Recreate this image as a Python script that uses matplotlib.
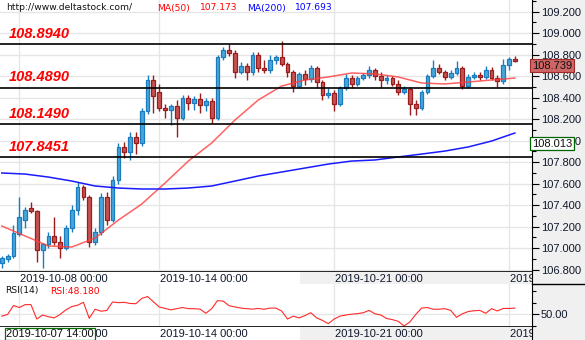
import matplotlib
matplotlib.use("Agg")
import matplotlib.pyplot as plt
import matplotlib.transforms as mtransforms
from matplotlib.ticker import MultipleLocator, FixedLocator, FuncFormatter

# USDJPY-like H4 candles (index 0 = 2019-10-07 12:00)
opens = [106.86, 106.90, 106.93, 107.13, 107.26, 107.37, 107.34, 106.98, 107.04, 107.11,
         107.06, 107.00, 107.19, 107.35, 107.57, 107.47, 107.06, 107.15, 107.47, 107.26,
         107.63, 107.94, 107.89, 108.03, 107.98, 108.27, 108.56, 108.45, 108.30, 108.28,
         108.32, 108.21, 108.40, 108.35, 108.39, 108.33, 108.37, 108.21, 108.78, 108.84,
         108.81, 108.64, 108.69, 108.64, 108.80, 108.67, 108.66, 108.75, 108.78, 108.71,
         108.64, 108.51, 108.62, 108.57, 108.67, 108.54, 108.42, 108.44, 108.34, 108.49,
         108.58, 108.53, 108.58, 108.61, 108.66, 108.60, 108.56, 108.58, 108.53, 108.45,
         108.48, 108.34, 108.30, 108.45, 108.60, 108.67, 108.64, 108.59, 108.63, 108.67,
         108.51, 108.59, 108.61, 108.59, 108.66, 108.58, 108.55, 108.70, 108.76]
highs = [106.93, 106.94, 107.21, 107.47, 107.38, 107.43, 107.35, 107.05, 107.15, 107.29,
         107.11, 107.21, 107.40, 107.61, 107.59, 107.49, 107.19, 107.51, 107.52, 107.67,
         107.98, 107.99, 108.08, 108.08, 108.30, 108.61, 108.61, 108.53, 108.34, 108.34,
         108.38, 108.42, 108.42, 108.41, 108.44, 108.40, 108.40, 108.80, 108.87, 108.90,
         108.84, 108.73, 108.72, 108.82, 108.82, 108.75, 108.80, 108.80, 108.93, 108.73,
         108.66, 108.64, 108.66, 108.70, 108.69, 108.56, 108.49, 108.47, 108.51, 108.62,
         108.61, 108.60, 108.63, 108.69, 108.67, 108.64, 108.61, 108.60, 108.56, 108.51,
         108.50, 108.38, 108.47, 108.62, 108.75, 108.71, 108.66, 108.66, 108.74, 108.69,
         108.62, 108.64, 108.64, 108.69, 108.68, 108.61, 108.76, 108.78, 108.79]
lows = [106.81, 106.87, 106.91, 107.11, 107.19, 107.33, 106.87, 106.81, 107.00, 107.03,
        106.91, 106.98, 107.15, 107.31, 107.45, 107.01, 107.03, 107.12, 107.21, 107.24,
        107.60, 107.84, 107.82, 107.87, 107.95, 108.25, 108.26, 108.27, 108.21, 108.14,
        108.03, 108.19, 108.28, 108.28, 108.26, 108.27, 108.16, 108.19, 108.75, 108.79,
        108.58, 108.62, 108.56, 108.61, 108.64, 108.63, 108.63, 108.71, 108.69, 108.59,
        108.45, 108.49, 108.52, 108.54, 108.49, 108.38, 108.40, 108.27, 108.32, 108.47,
        108.49, 108.51, 108.56, 108.58, 108.56, 108.49, 108.53, 108.51, 108.42, 108.43,
        108.24, 108.24, 108.28, 108.43, 108.58, 108.62, 108.56, 108.57, 108.61, 108.48,
        108.49, 108.57, 108.56, 108.57, 108.56, 108.50, 108.53, 108.66, 108.73]
closes = [106.91, 106.93, 107.14, 107.29, 107.35, 107.34, 106.98, 107.04, 107.11, 107.06,
          107.00, 107.19, 107.35, 107.57, 107.47, 107.06, 107.15, 107.47, 107.26, 107.63,
          107.94, 107.89, 108.03, 107.98, 108.27, 108.56, 108.41, 108.30, 108.28, 108.32,
          108.21, 108.40, 108.35, 108.39, 108.33, 108.37, 108.21, 108.78, 108.84, 108.81,
          108.64, 108.69, 108.64, 108.80, 108.67, 108.66, 108.75, 108.78, 108.71, 108.64,
          108.51, 108.62, 108.57, 108.67, 108.54, 108.42, 108.44, 108.34, 108.49, 108.58,
          108.53, 108.58, 108.61, 108.66, 108.60, 108.56, 108.58, 108.53, 108.45, 108.48,
          108.34, 108.30, 108.45, 108.60, 108.67, 108.64, 108.59, 108.63, 108.67, 108.51,
          108.59, 108.61, 108.59, 108.66, 108.58, 108.55, 108.70, 108.76, 108.739]

# moving averages, read every 4th candle
ma_idx = [0, 4, 8, 12, 16, 20, 24, 28, 32, 36, 40, 44, 48, 52, 56, 60, 64, 68, 72, 76, 80, 84, 88]
ma50 = [107.205, 107.112, 107.019, 107.009, 107.093, 107.260, 107.409, 107.605, 107.809, 107.977,
        108.191, 108.377, 108.507, 108.563, 108.591, 108.628, 108.619, 108.591, 108.535, 108.526,
        108.544, 108.563, 108.581]
ma200 = [107.698, 107.688, 107.660, 107.623, 107.577, 107.558, 107.549, 107.549, 107.558, 107.577,
         107.623, 107.670, 107.707, 107.744, 107.781, 107.809, 107.819, 107.847, 107.874, 107.902,
         107.940, 107.995, 108.070]

rsi = [48.5, 50, 57.7, 56, 58.5, 58.5, 46, 49.5, 48, 47,
       50, 54, 56.8, 58, 60.5, 46.6, 54.5, 52.8, 53.4, 60.8,
       60.2, 60.5, 59.5, 59.3, 63.9, 65.5, 61, 56.5, 55.2, 54,
       55, 56, 55, 55, 54.6, 51, 55, 62, 61.5, 57.5,
       56.5, 55.5, 55, 54.6, 55.2, 54.5, 55.5, 55.5, 53, 46,
       48.5, 47, 49, 51.5, 47, 44.8, 42, 46, 48.5, 49.5,
       50.2, 50.7, 51.5, 53.5, 50.6, 49.5, 46.5, 45.5, 44, 40,
       43.5, 50, 55.5, 56, 54.5, 54.5, 55, 53.5, 47.5, 50.6,
       52.5, 53.2, 53.5, 51, 55, 53, 55.2, 55.2, 55.5]

levels = [108.8940, 108.4890, 108.1490, 107.8451]
level_labels = ['108.8940', '108.4890', '108.1490', '107.8451']

date_idx = [3, 27, 57, 87]
date_labels = ['2019-10-08 00:00', '2019-10-14 00:00', '2019-10-21 00:00', '2019-10-28 00:00']

W, H = 585, 340
XL = (-0.31, 90.94)

def box(x0, y0, x1, y1):
    # pixel box (from top-left) -> figure fraction
    return [x0 / W, 1 - y1 / H, (x1 - x0) / W, (y1 - y0) / H]

fig = plt.figure(figsize=(W / 100, H / 100), dpi=100, facecolor='#f0f0f0')
ax = fig.add_axes(box(0, 0, 532, 272))
axd1 = fig.add_axes(box(0, 272, 532, 284))
axr = fig.add_axes(box(0, 284, 532, 327))
axd2 = fig.add_axes(box(0, 327, 532, 340))

grid_c = '#e6e6e6'
tick_font = dict(family='Liberation Sans', size=8)

# ---- main price panel + RSI panel, common styling
for a in (ax, axr):
    a.set_facecolor('white')
    a.set_xlim(*XL)
    for s in ('top', 'left'):
        a.spines[s].set_visible(False)
    a.spines['right'].set_color('black')
    a.spines['bottom'].set_color('black')
    a.spines['bottom'].set_linewidth(1.2)
    a.set_xticks(date_idx)
    a.tick_params(axis='x', length=0, labelbottom=False)
    a.yaxis.tick_right()
    a.tick_params(axis='y', which='major', direction='out', length=5, width=0.8,
                  pad=1.5, labelsize=8, labelcolor='#10182a')
    a.tick_params(axis='y', which='minor', direction='out', length=3, width=0.8)
    a.grid(True, color=grid_c, lw=1)
    a.set_axisbelow(True)

ax.set_ylim(106.777, 109.307)
ax.yaxis.set_major_locator(MultipleLocator(0.2))
ax.yaxis.set_minor_locator(MultipleLocator(0.1))
ax.yaxis.set_major_formatter(FuncFormatter(lambda v, p: '%.3f' % v))
for lab in ax.get_yticklabels():
    lab.set_family('Liberation Sans')

# candles
bull_fc, bull_ec = '#48a6d9', '#1a7cbf'
bear_fc, bear_ec = '#c55252', '#9c1c1c'
for i in range(len(closes)):
    o, h, l, c = opens[i], highs[i], lows[i], closes[i]
    up = c >= o
    ec = bull_ec if up else bear_ec
    fc = bull_fc if up else bear_fc
    ax.vlines(i, l, h, color=ec, lw=1, zorder=3)
    ax.bar(i, max(abs(c - o), 0.006), bottom=min(o, c), width=0.65,
           color=fc, edgecolor=ec, linewidth=0.9, zorder=4)

ax.plot(ma_idx, ma50, color='#ff3b3b', lw=1.1, alpha=0.8, zorder=5)
ax.plot(ma_idx, ma200, color='#1a1aff', lw=1.1, zorder=5)

for lv, txt in zip(levels, level_labels):
    ax.axhline(lv, color='black', lw=1.2, zorder=6)
    ax.annotate(txt, xy=(0, lv), xycoords=('axes fraction', 'data'),
                xytext=(6, 2.5), textcoords='offset points', va='bottom', ha='left',
                color='#ff0000', fontsize=10.5, fontweight='bold', fontstyle='italic',
                family='Liberation Sans', zorder=7)

# header
hdr = dict(family='DejaVu Sans', size=6.6, va='center')
fig.text(6 / W, 1 - 8 / H, 'http://www.deltastock.com/', color='#111111', **hdr)
fig.text(157 / W, 1 - 8 / H, 'MA(50)', color='#ff0000', **hdr)
fig.text(200 / W, 1 - 8 / H, '107.173', color='#ff0000', **hdr)
fig.text(247 / W, 1 - 8 / H, 'MA(200)', color='#0000ff', **hdr)
fig.text(295 / W, 1 - 8 / H, '107.693', color='#0000ff', **hdr)

# price boxes on the right axis
blend = mtransforms.blended_transform_factory(ax.transAxes, ax.transData)
ax.text(1.0, closes[-1] + 0.005, '%.3f' % closes[-1], transform=blend, va='top', ha='left',
        fontsize=8, family='Liberation Sans', color='#101010', clip_on=False, zorder=10,
        bbox=dict(boxstyle='square,pad=0.15', fc='#d06565', ec='#a02a2a', lw=0.8))
ax.text(1.0, 108.013 + 0.005, '108.013', transform=blend, va='top', ha='left',
        fontsize=8, family='Liberation Sans', color='#101010', clip_on=False, zorder=10,
        bbox=dict(boxstyle='square,pad=0.15', fc='white', ec='#006400', lw=0.9))

# ---- RSI panel
axr.set_ylim(39.1, 76.4)
axr.yaxis.set_major_locator(FixedLocator([50]))
axr.yaxis.set_minor_locator(FixedLocator([40, 60, 70]))
axr.yaxis.set_major_formatter(FuncFormatter(lambda v, p: '%.2f' % v))
for lab in axr.get_yticklabels():
    lab.set_family('Liberation Sans')
axr.plot(range(len(rsi)), rsi, color='#ff2a2a', lw=0.8)
axr.text(5 / 532, 1 - 7 / 43, 'RSI(14)', transform=axr.transAxes, color='#111111', **hdr)
axr.text(50 / 532, 1 - 7 / 43, 'RSI:48.180', transform=axr.transAxes, color='#ff0000', **hdr)

# ---- date strips
for a in (axd1, axd2):
    a.set_xlim(*XL)
    a.set_ylim(0, 1)
    a.set_facecolor('white')
    a.axvspan(51.1, XL[1], color='#f0f0f0', lw=0)
    for s in ('top', 'left', 'bottom'):
        a.spines[s].set_visible(False)
    a.spines['right'].set_color('black')
    a.set_xticks([])
    a.set_yticks([])
    for xi, lab in zip(date_idx, date_labels):
        a.text(xi + 0.15, 0.45, lab, va='center', ha='left', color='#10182a',
               clip_on=True, **tick_font)

axd2.text(6 / 532, 0.45, '2019-10-07 14:00', transform=axd2.transAxes, va='center',
          ha='left', color='#101010', zorder=10, **tick_font,
          bbox=dict(boxstyle='square,pad=0.12', fc='white', ec='#007000', lw=0.9))

# separator in the right strip between the two panels
fig.add_artist(plt.Line2D([532 / W, 1], [1 - 284 / H, 1 - 284 / H], color='black', lw=1))

fig.savefig('out.png', dpi=100, facecolor=fig.get_facecolor())
